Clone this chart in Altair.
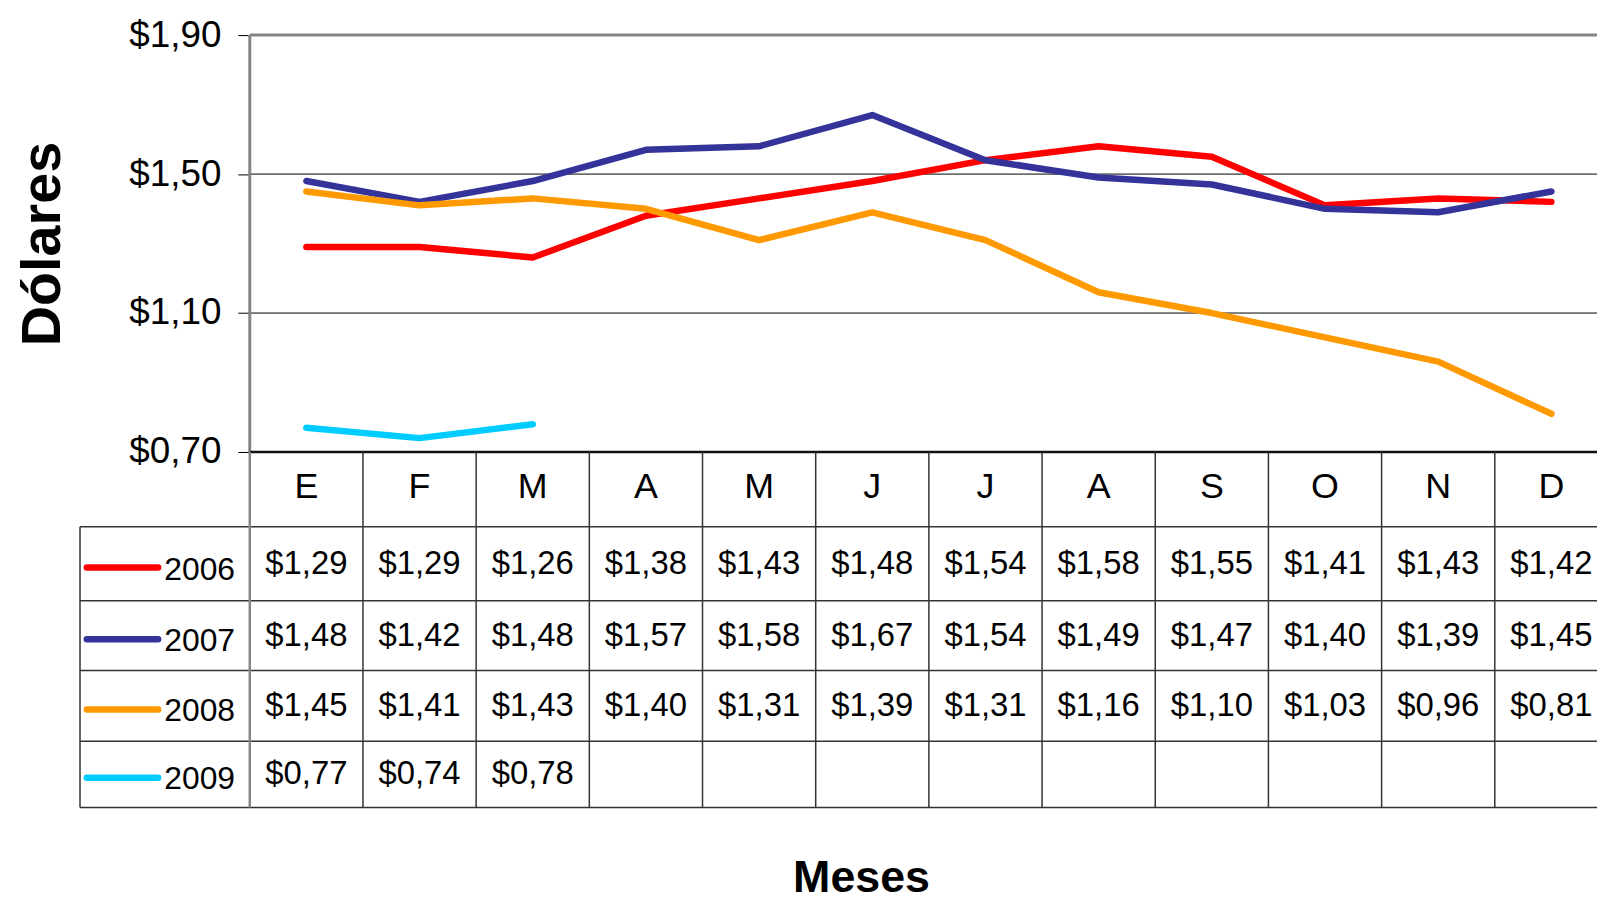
import altair as alt
import pandas as pd

# ---- data ----
months = ["E", "F", "M", "A", "M", "J", "J", "A", "S", "O", "N", "D"]
years = ["2006", "2007", "2008", "2009"]
v2006 = [1.29, 1.29, 1.26, 1.38, 1.43, 1.48, 1.54, 1.58, 1.55, 1.41, 1.43, 1.42]
v2007 = [1.48, 1.42, 1.48, 1.57, 1.58, 1.67, 1.54, 1.49, 1.47, 1.40, 1.39, 1.45]
v2008 = [1.45, 1.41, 1.43, 1.40, 1.31, 1.39, 1.31, 1.16, 1.10, 1.03, 0.96, 0.81]
v2009 = [0.77, 0.74, 0.78]
y_ticks = [0.70, 1.10, 1.50, 1.90]

# ---- styles / layout ----
colors = ["#FF0000", "#333399", "#FF9900", "#00CCFF"]
widths = [6.5, 6.5, 6.5, 10]
FONT = "Liberation Sans"
PLOT_W, PLOT_H = 1354, 419
X_DOM = [-0.5, 11.403]
x_scale = alt.Scale(domain=X_DOM, nice=False, zero=False)
y_scale = alt.Scale(domain=[0.70, 1.90], nice=False, zero=False)
# table rows: 0 = month header, 1..4 = years
t_scale = alt.Scale(domain=[0, 1, 2, 3, 4, 5],
                    range=[419, 494, 568.5, 638.7, 709.7, 776.3], nice=False, zero=False)
LEG_LEFT, LEG_KEY0, LEG_KEY1, LEG_TXT = -2.0, -1.94, -1.31, -0.63

series = {"2006": v2006, "2007": v2007, "2008": v2008, "2009": v2009}


def money(v):
    return "$" + f"{v:.2f}".replace(".", ",")


rows = []
for r, (yr, vals) in enumerate(series.items(), start=1):
    for i, v in enumerate(vals):
        rows.append({"year": yr, "mi": i, "value": v, "label": money(v), "row": r + 0.645})
df = pd.DataFrame(rows)

color_enc = alt.Color("year:N", scale=alt.Scale(domain=years, range=colors), legend=None)
sw_enc = alt.StrokeWidth("year:N", scale=alt.Scale(domain=years, range=widths), legend=None)

# ---------- main plot ----------
grid = alt.Chart(pd.DataFrame({"v": [1.10, 1.50]})).mark_rule(color="black", strokeWidth=1).encode(
    y=alt.Y("v:Q", scale=y_scale,
            axis=alt.Axis(values=y_ticks, grid=False, domain=False, tickSize=12, tickColor="black",
                          tickWidth=1, labelFont=FONT, labelFontSize=37, labelColor="black",
                          labelPadding=17,
                          labelExpr="'$' + replace(format(datum.value, '.2f'), '.', ',')",
                          title="Dólares", titleFont=FONT, titleFontSize=56, titleFontWeight="bold",
                          titleColor="black", titlePadding=58))
)
top_border = alt.Chart(pd.DataFrame({"v": [1.90]})).mark_rule(color="#858585", strokeWidth=3).encode(
    y=alt.Y("v:Q", scale=y_scale)
)
bottom_axis = alt.Chart(pd.DataFrame({"v": [0.70]})).mark_rule(color="#111111", strokeWidth=2.6).encode(
    y=alt.Y("v:Q", scale=y_scale)
)
lines = alt.Chart(df).mark_line(strokeCap="round", strokeJoin="round").encode(
    x=alt.X("mi:Q", scale=x_scale, axis=None),
    y=alt.Y("value:Q", scale=y_scale),
    color=color_enc,
    strokeWidth=sw_enc,
    order="mi:Q",
)
left_border = alt.Chart(pd.DataFrame({"x": [-0.5], "a": [0.70], "b": [1.90]})).mark_rule(
    color="#858585", strokeWidth=3).encode(
    x=alt.X("x:Q", scale=x_scale, axis=None),
    y=alt.Y("a:Q", scale=y_scale), y2="b:Q")

main = alt.layer(grid, top_border, lines, left_border, bottom_axis)

# ---------- data table ----------
hlines = pd.DataFrame({"r": [1, 2, 3, 4, 5], "x0": [LEG_LEFT] * 5, "x1": [X_DOM[1]] * 5})
t_h = alt.Chart(hlines).mark_rule(color="#333333", strokeWidth=1.5).encode(
    x=alt.X("x0:Q", scale=x_scale, axis=None), x2="x1:Q",
    y=alt.Y("r:Q", scale=t_scale, axis=None))
vl = pd.DataFrame({"x": [i + 0.5 for i in range(11)], "r0": [0] * 11, "r1": [5] * 11})
t_v = alt.Chart(vl).mark_rule(color="#333333", strokeWidth=1.5).encode(
    x=alt.X("x:Q", scale=x_scale, axis=None),
    y=alt.Y("r0:Q", scale=t_scale, axis=None), y2="r1:Q")
t_left = alt.Chart(pd.DataFrame({"x": [LEG_LEFT], "r0": [1], "r1": [5]})).mark_rule(
    color="#333333", strokeWidth=1.5).encode(
    x=alt.X("x:Q", scale=x_scale, axis=None),
    y=alt.Y("r0:Q", scale=t_scale, axis=None), y2="r1:Q")
t_plotleft = alt.Chart(pd.DataFrame({"x": [-0.5], "r0": [0], "r1": [5]})).mark_rule(
    color="#858585", strokeWidth=2.5).encode(
    x=alt.X("x:Q", scale=x_scale, axis=None),
    y=alt.Y("r0:Q", scale=t_scale, axis=None), y2="r1:Q")

hdr = pd.DataFrame({"mi": list(range(12)), "m": months, "row": [0.617] * 12})
t_hdr = alt.Chart(hdr).mark_text(font=FONT, fontSize=36, color="black", baseline="alphabetic").encode(
    x=alt.X("mi:Q", scale=x_scale, axis=None),
    y=alt.Y("row:Q", scale=t_scale, axis=None),
    text="m:N")
t_vals = alt.Chart(df).mark_text(font=FONT, fontSize=33, color="black", baseline="alphabetic").encode(
    x=alt.X("mi:Q", scale=x_scale, axis=None),
    y=alt.Y("row:Q", scale=t_scale, axis=None),
    text="label:N")

leg = pd.DataFrame({"year": years, "k0": [LEG_KEY0] * 4, "k1": [LEG_KEY1] * 4,
                    "tx": [LEG_TXT] * 4, "ky": [r + 0.55 for r in range(1, 5)],
                    "ty": [r + 0.72 for r in range(1, 5)]})
t_keys = alt.Chart(leg).mark_rule(strokeCap="round").encode(
    x=alt.X("k0:Q", scale=x_scale, axis=None), x2="k1:Q",
    y=alt.Y("ky:Q", scale=t_scale, axis=None),
    color=color_enc, strokeWidth=sw_enc)
t_years = alt.Chart(leg).mark_text(font=FONT, fontSize=32, color="black", align="right",
                                   baseline="alphabetic").encode(
    x=alt.X("tx:Q", scale=x_scale, axis=None),
    y=alt.Y("ty:Q", scale=t_scale, axis=None),
    text="year:N")
t_title = alt.Chart(pd.DataFrame({"x": [4.905], "r": [6.28], "t": ["Meses"]})).mark_text(
    font=FONT, fontSize=45, fontWeight="bold", color="black", baseline="alphabetic").encode(
    x=alt.X("x:Q", scale=x_scale, axis=None),
    y=alt.Y("r:Q", scale=t_scale, axis=None),
    text="t:N")

table = alt.layer(t_h, t_v, t_left, t_plotleft, t_keys, t_hdr, t_vals, t_years, t_title)

chart = alt.layer(main, table).resolve_scale(y="independent").properties(
    width=PLOT_W, height=PLOT_H,
    padding={"left": 243, "top": 25, "right": 0, "bottom": 449},
    autosize=alt.AutoSizeParams(type="none"),
    background="white",
).configure_view(stroke=None)

chart.save("out.html", embed_options={"renderer": "svg", "actions": False})
